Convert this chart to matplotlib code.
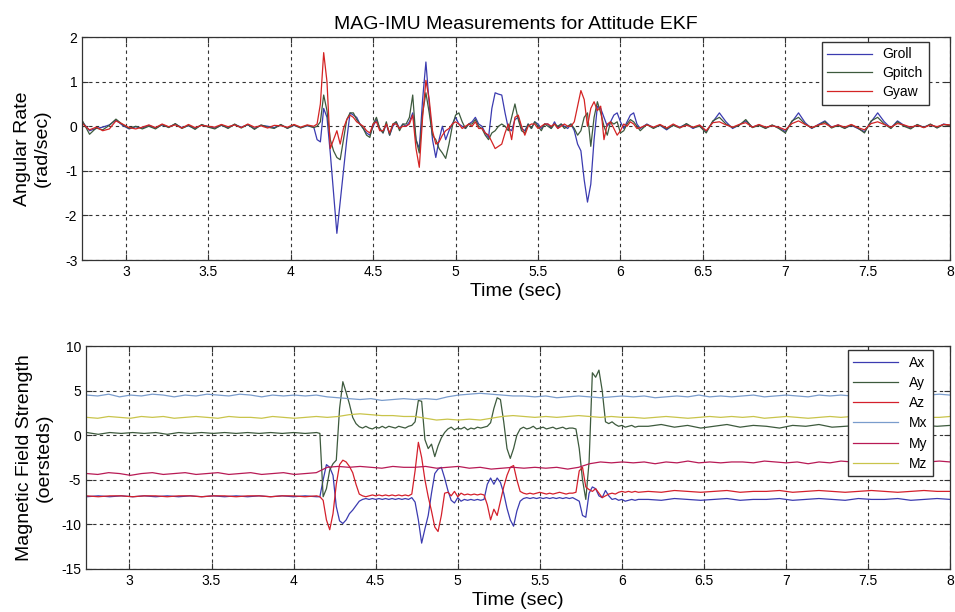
import matplotlib
matplotlib.use("Agg")
import matplotlib.pyplot as plt
import numpy as np

plt.rcParams['font.family'] = ['Liberation Sans', 'DejaVu Sans']
plt.rcParams['axes.unicode_minus'] = False

# time bases (sec)
t_gyro = np.concatenate([np.linspace(2.74, 4.14, 36),
                         np.linspace(4.16, 6.10, 98),
                         np.linspace(6.12, 8.00, 48)])
t_acc = np.concatenate([np.linspace(2.74, 4.14, 21),
                        np.linspace(4.16, 6.10, 98),
                        np.linspace(6.16, 8.00, 24)])
t_mag = np.linspace(2.74, 8.00, 80)

# angular rates (rad/sec)
groll = [
    0.08, -0.10, -0.05, -0.02, 0.03, 0.14, 0.02, -0.06, -0.01, -0.04,
    0.02, -0.04, 0.03, -0.02, 0.05, -0.03, 0.01, -0.05, 0.03, -0.01,
    -0.04, 0.02, -0.03, 0.04, -0.02, 0.03, -0.05, 0.02, 0.00, -0.03,
    0.03, -0.04, 0.02, -0.03, 0.01, -0.02,
    -0.30, -0.35, 0.40, 0.20, -0.60, -1.50, -2.40, -1.70, -1.00, -0.30,
    0.30, 0.25, 0.20, 0.05, -0.05, -0.15, -0.20, 0.00, 0.15, -0.05,
    -0.15, 0.05, -0.20, 0.00, 0.10, -0.05, 0.05, 0.00, 0.10, 0.30,
    -0.30, -0.50, 0.60, 1.44, 0.50, -0.30, -0.70, -0.30, 0.00, -0.30,
    -0.10, 0.05, 0.20, 0.05, 0.00, -0.05, 0.05, 0.10, 0.20, 0.05,
    0.00, -0.15, -0.25, 0.40, 0.75, 0.72, 0.70, 0.30, -0.05, -0.10,
    0.15, 0.20, -0.05, -0.10, 0.05, -0.05, 0.10, 0.05, -0.05, 0.05,
    0.05, -0.05, 0.10, -0.05, 0.05, 0.00, -0.05, 0.05, -0.10, -0.40,
    -0.55, -1.20, -1.70, -1.30, -0.30, 0.45, 0.40, 0.20, 0.00, 0.10,
    0.25, 0.30, 0.10, -0.05, 0.10, 0.25, 0.30, 0.05,
    -0.05, 0.05, -0.03, 0.02, -0.08, 0.03, -0.02, 0.05, -0.05, 0.02,
    -0.12, 0.10, 0.30, 0.10, -0.05, 0.03, 0.12, -0.02, 0.03, -0.04,
    0.02, -0.03, -0.12, 0.10, 0.30, 0.08, -0.05, 0.04, 0.12, -0.02,
    0.03, -0.04, 0.02, -0.05, -0.12, 0.10, 0.30, 0.10, -0.04, 0.12,
    0.02, -0.04, 0.03, -0.02, 0.04, -0.03, 0.05, 0.02]
gpitch = [
    0.10, -0.18, -0.04, -0.08, 0.02, 0.16, 0.04, -0.05, 0.00, -0.06,
    0.00, -0.06, 0.04, -0.03, 0.06, -0.05, 0.02, -0.07, 0.04, -0.02,
    -0.06, 0.03, -0.05, 0.05, -0.04, 0.04, -0.07, 0.03, -0.02, -0.05,
    0.04, -0.05, 0.03, -0.04, 0.02, -0.03,
    0.00, 0.10, 0.70, 0.35, -0.30, -0.55, -0.70, -0.75, -0.30, 0.15,
    0.30, 0.30, 0.15, 0.05, -0.05, -0.20, -0.25, 0.05, 0.20, -0.05,
    -0.15, 0.10, -0.20, 0.05, 0.10, -0.10, 0.05, 0.05, 0.20, 0.70,
    -0.30, -0.60, 0.30, 0.75, 0.30, -0.20, -0.30, -0.50, -0.60, -0.72,
    -0.40, 0.00, 0.25, 0.30, 0.10, -0.05, 0.05, 0.05, 0.15, 0.00,
    -0.05, -0.20, -0.30, -0.15, -0.10, 0.00, 0.05, 0.00, -0.10, 0.20,
    0.50, 0.15, -0.10, -0.15, 0.05, -0.05, 0.10, 0.00, -0.10, 0.05,
    0.00, -0.05, 0.05, 0.00, 0.05, -0.05, 0.00, 0.05, -0.05, -0.20,
    -0.10, 0.20, 0.30, -0.45, 0.20, 0.55, 0.30, 0.00, -0.20, 0.10,
    0.05, 0.10, -0.15, -0.10, 0.05, 0.15, 0.10, 0.00,
    -0.10, 0.04, -0.05, 0.03, -0.06, 0.02, -0.04, 0.06, -0.03, 0.00,
    -0.15, 0.12, 0.20, 0.05, -0.03, 0.02, 0.15, -0.03, 0.02, -0.05,
    0.03, -0.05, -0.15, 0.12, 0.20, 0.05, -0.04, 0.02, 0.10, -0.04,
    0.02, -0.05, 0.03, -0.04, -0.15, 0.12, 0.20, 0.05, -0.05, 0.10,
    0.00, -0.06, 0.04, -0.03, 0.05, -0.04, 0.04, 0.01]
gyaw = [
    0.05, -0.08, -0.02, -0.10, -0.06, 0.12, 0.05, -0.03, -0.06, -0.02,
    0.03, -0.03, 0.05, -0.01, 0.03, -0.04, 0.04, -0.03, 0.02, 0.00,
    -0.02, 0.04, -0.01, 0.03, -0.03, 0.05, -0.02, 0.01, -0.04, 0.02,
    0.01, -0.02, 0.04, -0.02, 0.03, 0.00,
    0.05, 0.50, 1.65, 1.00, -0.50, -0.30, -0.10, -0.40, -0.05, 0.15,
    0.25, 0.20, 0.10, 0.05, 0.00, -0.10, -0.15, 0.05, 0.10, -0.10,
    -0.10, 0.05, -0.15, 0.05, 0.05, -0.05, 0.00, 0.00, 0.05, 0.25,
    -0.50, -0.92, 0.20, 1.03, 0.60, -0.10, -0.40, -0.35, -0.20, -0.10,
    -0.05, 0.05, 0.10, 0.05, -0.05, 0.00, 0.05, 0.00, 0.10, -0.05,
    -0.05, -0.15, -0.20, -0.35, -0.50, -0.45, -0.40, -0.15, 0.05, -0.30,
    0.20, 0.25, 0.00, -0.20, 0.00, 0.05, 0.05, -0.05, 0.00, 0.05,
    0.05, 0.00, 0.05, -0.05, 0.00, 0.05, 0.00, 0.00, 0.10, 0.45,
    0.80, 0.60, 0.00, 0.40, 0.55, 0.35, 0.45, -0.30, 0.05, 0.10,
    -0.05, -0.20, -0.10, 0.05, 0.00, 0.10, 0.05, -0.05,
    -0.03, 0.03, -0.02, 0.04, -0.04, 0.05, -0.03, 0.02, -0.02, 0.03,
    -0.10, 0.08, 0.10, 0.03, -0.02, 0.04, 0.08, -0.02, 0.04, -0.02,
    0.01, -0.02, -0.08, 0.06, 0.12, 0.04, -0.03, 0.03, 0.06, -0.02,
    0.03, -0.02, 0.04, -0.03, -0.08, 0.06, 0.10, 0.04, -0.02, 0.06,
    0.03, -0.02, 0.02, -0.03, 0.03, -0.01, 0.04, 0.03]

# accelerometer channels
ax_vals = [
    -6.9, -6.8, -6.9, -6.8, -6.9, -6.8, -6.9, -6.8, -6.9, -6.8,
    -6.9, -6.8, -6.9, -6.8, -6.9, -6.8, -6.9, -6.8, -6.9, -6.8, -6.9,
    -6.9, -5.0, -3.3, -3.6, -4.5, -8.0, -9.6, -9.9, -9.5, -8.8,
    -8.4, -7.9, -7.4, -7.2, -7.1, -7.2, -7.1, -7.2, -7.1, -7.2,
    -7.1, -7.2, -7.1, -7.2, -7.1, -7.2, -7.1, -7.2, -7.0, -7.5,
    -9.5, -12.1, -10.5, -9.0, -6.5, -4.3, -3.8, -3.6, -4.8, -6.2,
    -7.3, -7.6, -7.0, -7.4, -7.2, -7.3, -7.2, -7.3, -7.2, -7.3,
    -7.2, -5.5, -4.8, -5.5, -4.8, -5.3, -6.5, -8.2, -9.5, -10.2,
    -8.5, -7.4, -7.1, -7.0, -7.1, -7.0, -7.1, -7.0, -7.1, -7.0,
    -7.1, -7.0, -7.1, -7.0, -7.1, -7.0, -7.1, -7.0, -7.2, -7.4,
    -9.0, -9.2, -6.5, -5.8, -6.0, -6.8, -7.0, -6.2, -6.8, -7.2,
    -7.1, -7.3, -7.2, -7.4, -7.3, -7.2, -7.3, -7.2,
    -7.2, -7.3, -7.1, -7.2, -7.3, -7.2, -7.1, -7.3, -7.2, -7.2,
    -7.1, -7.3, -7.2, -7.1, -7.2, -7.3, -7.1, -7.2, -7.2, -7.1,
    -7.3, -7.2, -7.1, -7.2]
ay_vals = [
    0.3, 0.1, 0.3, 0.2, 0.3, 0.2, 0.3, 0.1, 0.3, 0.2,
    0.3, 0.2, 0.3, 0.2, 0.3, 0.2, 0.3, 0.2, 0.3, 0.2, 0.3,
    0.2, -6.9, -6.0, -3.9, -3.2, -2.8, 3.0, 6.0, 4.8, 3.5,
    2.0, 1.3, 0.95, 0.8, 1.0, 0.8, 0.7, 0.9, 0.8, 1.0,
    0.8, 1.0, 0.9, 0.8, 1.0, 0.9, 0.8, 1.0, 1.1, 1.5,
    3.9, 3.8, -0.5, -1.5, -1.0, -2.4, -1.2, -0.3, 0.3, 0.7,
    0.9, 0.6, 0.8, 0.7, 0.9, 0.6, 0.8, 0.7, 0.9, 0.8,
    0.9, 1.0, 1.4, 3.0, 4.2, 4.0, 1.5, -1.5, -2.6, -1.5,
    0.0, 0.7, 0.9, 0.7, 0.8, 1.0, 0.7, 0.8, 0.9, 0.7,
    0.8, 0.9, 0.7, 0.8, 0.9, 0.7, 0.8, 0.8, 0.7, -1.5,
    -5.0, -7.2, -3.0, 7.0, 6.5, 7.3, 5.0, 1.5, 1.3, 1.5,
    1.2, 1.0, 1.1, 0.9, 1.0, 1.1, 0.9, 1.0,
    1.0, 1.2, 0.9, 1.1, 0.8, 1.0, 1.2, 0.9, 1.1, 1.0,
    0.8, 1.1, 1.0, 1.2, 0.9, 1.0, 1.1, 0.9, 1.2, 1.0,
    0.9, 1.1, 1.0, 1.1]
az_vals = [
    -6.8, -6.9, -6.8, -6.8, -6.9, -6.8, -6.8, -6.9, -6.8, -6.8,
    -6.9, -6.8, -6.8, -6.9, -6.8, -6.8, -6.9, -6.8, -6.8, -6.9, -6.8,
    -6.9, -7.3, -9.5, -10.6, -8.8, -5.5, -3.3, -2.8, -3.0, -3.5,
    -4.2, -5.5, -6.6, -6.8, -6.9, -6.8, -6.7, -6.8, -6.7, -6.8,
    -6.7, -6.8, -6.7, -6.8, -6.7, -6.8, -6.7, -6.8, -6.6, -4.0,
    -0.8, -2.5, -5.0, -6.9, -8.5, -10.3, -10.8, -9.0, -6.5, -6.4,
    -6.8, -6.3, -6.9, -6.5, -6.7, -6.6, -6.7, -6.6, -6.7, -6.6,
    -6.7, -7.8, -9.5, -8.3, -9.0, -7.4, -5.8, -4.5, -3.6, -3.4,
    -5.0, -6.3, -6.5, -6.6, -6.5, -6.6, -6.5, -6.4, -6.5, -6.6,
    -6.5, -6.6, -6.5, -6.4, -6.5, -6.6, -6.5, -6.5, -6.4, -4.0,
    -3.6, -5.8, -6.1, -6.3, -6.0, -6.5, -7.0, -6.8, -6.6, -6.5,
    -6.6, -6.4, -6.3, -6.4, -6.3, -6.4, -6.3, -6.4,
    -6.3, -6.4, -6.2, -6.3, -6.4, -6.3, -6.2, -6.4, -6.3, -6.3,
    -6.2, -6.4, -6.3, -6.2, -6.3, -6.4, -6.3, -6.2, -6.3, -6.4,
    -6.3, -6.2, -6.3, -6.3]

# magnetometer channels (oersteds)
mx_vals = [
    4.5, 4.4, 4.6, 4.3, 4.5, 4.4, 4.6, 4.5, 4.3, 4.5,
    4.4, 4.6, 4.5, 4.4, 4.6, 4.5, 4.3, 4.5, 4.4, 4.5,
    4.4, 4.5, 4.3, 4.2, 4.1, 4.0, 4.1, 3.9, 4.0, 4.1,
    4.0, 4.1, 4.0, 4.3, 4.5, 4.6, 4.7, 4.6, 4.5, 4.4,
    4.4, 4.3, 4.4, 4.2, 4.3, 4.4, 4.3, 4.2, 4.3, 4.4,
    4.3, 4.4, 4.2, 4.3, 4.4, 4.3, 4.5, 4.3, 4.4, 4.3,
    4.4, 4.5, 4.3, 4.4, 4.5, 4.4, 4.3, 4.5, 4.4, 4.5,
    4.4, 4.6, 4.5, 4.4, 4.6, 4.5, 4.4, 4.5, 4.6, 4.5]
my_vals = [
    -4.3, -4.4, -4.2, -4.3, -4.5, -4.3, -4.2, -4.4, -4.3, -4.2,
    -4.4, -4.3, -4.2, -4.4, -4.3, -4.2, -4.4, -4.3, -4.2, -4.4,
    -4.3, -4.2, -3.6, -3.5, -3.6, -3.5, -3.6, -3.7, -3.5, -3.6,
    -3.6, -3.5, -3.7, -3.6, -3.5, -3.7, -3.6, -3.8, -3.7, -3.6,
    -3.7, -3.6, -3.7, -3.6, -3.8, -3.6, -3.2, -3.0, -3.1, -3.0,
    -3.1, -3.0, -3.2, -3.0, -3.1, -2.9, -3.1, -3.0, -3.1, -3.0,
    -3.0, -3.1, -2.9, -3.0, -3.1, -3.0, -3.2, -3.0, -3.1, -2.9,
    -3.0, -3.1, -3.0, -2.9, -3.1, -3.0, -3.1, -3.0, -2.9, -3.0]
mz_vals = [
    2.0, 1.9, 2.1, 2.0, 1.9, 2.1, 2.0, 2.1, 1.9, 2.0,
    2.1, 2.0, 1.9, 2.1, 2.0, 2.0, 1.9, 2.1, 2.0, 1.9,
    2.0, 2.1, 2.0, 2.1, 2.3, 2.4, 2.3, 2.2, 2.2, 2.1,
    2.1, 1.9, 1.7, 1.8, 1.7, 1.8, 1.7, 1.9, 2.1, 2.2,
    2.1, 2.0, 2.1, 2.0, 2.1, 2.2, 2.1, 2.0, 2.1, 2.0,
    2.0, 1.9, 2.0, 2.1, 2.0, 1.9, 2.0, 2.1, 2.0, 2.1,
    2.0, 2.1, 1.9, 2.0, 2.1, 2.0, 1.9, 2.0, 2.1, 2.0,
    2.1, 2.0, 1.9, 2.0, 2.1, 2.0, 2.1, 2.0, 2.0, 2.1]

xticks = [3, 3.5, 4, 4.5, 5, 5.5, 6, 6.5, 7, 7.5, 8]
xticklabels = ['3', '3.5', '4', '4.5', '5', '5.5', '6', '6.5', '7', '7.5', '8']

fig = plt.figure(figsize=(9.55, 6.12), dpi=100)
ax1 = fig.add_axes([0.086, 0.575, 0.909, 0.3645])
ax2 = fig.add_axes([0.090, 0.0703, 0.905, 0.3643])

lw = 0.9
ax1.plot(t_gyro, groll, color='#3b3bb0', lw=lw, label='Groll')
ax1.plot(t_gyro, gpitch, color='#3d5a3d', lw=lw, label='Gpitch')
ax1.plot(t_gyro, gyaw, color='#d42424', lw=lw, label='Gyaw')

ax2.plot(t_acc, ax_vals, color='#3b3bb0', lw=lw, label='Ax')
ax2.plot(t_acc, ay_vals, color='#3d5a3d', lw=lw, label='Ay')
ax2.plot(t_acc, az_vals, color='#d4202c', lw=lw, label='Az')
ax2.plot(t_mag, mx_vals, color='#7a9ccc', lw=lw, label='Mx')
ax2.plot(t_mag, my_vals, color='#b81a55', lw=lw, label='My')
ax2.plot(t_mag, mz_vals, color='#c9c44a', lw=lw, label='Mz')

for ax in (ax1, ax2):
    ax.set_xlim(2.735, 8.0)
    ax.set_xticks(xticks)
    ax.set_xticklabels(xticklabels)
    ax.grid(True, color='#333333', linestyle=(0, (3, 3)), linewidth=0.8)
    ax.tick_params(direction='in', labelsize=10, length=4, color='#333333',
                   top=True, right=True)
    for s in ax.spines.values():
        s.set_color('#333333')
        s.set_linewidth(0.9)
    ax.set_xlabel('Time (sec)', fontsize=14, labelpad=3)

ax1.set_ylim(-3, 2)
ax1.set_yticks([-3, -2, -1, 0, 1, 2])
ax1.set_ylabel('Angular Rate\n(rad/sec)', fontsize=14, labelpad=10)
ax1.set_title('MAG-IMU Measurements for Attitude EKF', fontsize=14, pad=6)
ax1.legend(loc='upper right', fontsize=10, handlelength=3.2, frameon=True,
           fancybox=False, edgecolor='#333333', framealpha=1, borderpad=0.4,
           labelspacing=0.35, borderaxespad=0,
           bbox_to_anchor=(0.975, 0.978))

ax2.set_ylim(-15, 10)
ax2.set_yticks([-15, -10, -5, 0, 5, 10])
ax2.set_ylabel('Magnetic Field Strength\n(oersteds)', fontsize=14, labelpad=6)
ax2.legend(loc='upper right', fontsize=10, handlelength=3.2, frameon=True,
           fancybox=False, edgecolor='#333333', framealpha=1, borderpad=0.4,
           labelspacing=0.45, borderaxespad=0,
           bbox_to_anchor=(0.98, 0.982))

fig.savefig('out.png', dpi=100)
